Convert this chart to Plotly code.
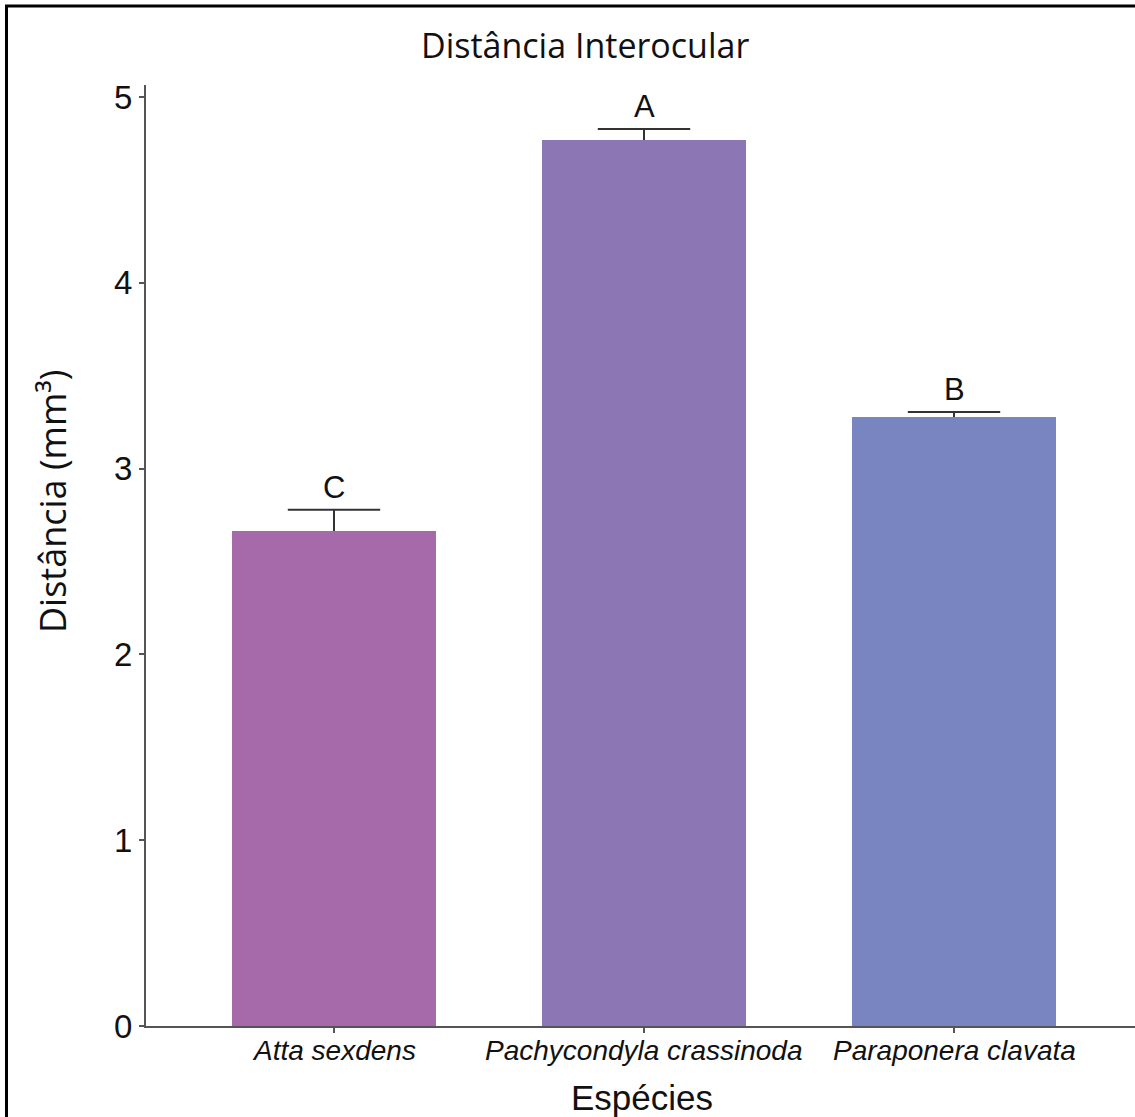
import plotly.graph_objects as go

species = ["Atta sexdens", "Pachycondyla crassinoda", "Paraponera clavata"]
means = [2.665, 4.77, 3.278]
errors = [0.113, 0.058, 0.027]
letters = ["C", "A", "B"]
yticks = [0, 1, 2, 3, 4, 5]

colors = ["#A66AAA", "#8C76B3", "#7985C1"]

W, H = 1135, 1117
ML, MR, MT, MB = 146, 0, 85, 91
pw, ph = W - ML - MR, H - MT - MB

def px_to_paper_x(px):
    return (px - ML) / pw

def px_to_paper_y(py):
    return 1 - (py - MT) / ph

xs = list(range(len(species)))
tops = [m + e for m, e in zip(means, errors)]

fig = go.Figure()
fig.add_trace(go.Bar(
    x=xs, y=means, width=0.655,
    marker=dict(color=colors, line=dict(width=0)),
    error_y=dict(type="data", symmetric=False, array=errors,
                 arrayminus=[0] * len(errors),
                 color="#333333", thickness=2, width=0),
    showlegend=False, hoverinfo="skip",
))
# error bar caps (top only)
fig.add_trace(go.Scatter(
    x=xs, y=tops, mode="markers",
    marker=dict(symbol="line-ew", size=66, line=dict(color="#333333", width=2)),
    showlegend=False, hoverinfo="skip",
))

for xi, t, l in zip(xs, tops, letters):
    fig.add_annotation(x=xi, y=t, text=l, showarrow=False,
                       yanchor="bottom", yshift=3,
                       font=dict(family="Liberation Sans, Arial", size=31, color="#111"))

# category labels
for xi, s in zip(xs, species):
    fig.add_annotation(x=xi, xref="x", yref="paper", y=px_to_paper_y(1050),
                       text=f"<i>{s}</i>", showarrow=False,
                       xanchor="center", yanchor="middle",
                       font=dict(family="Liberation Sans, Arial", size=28, color="#111"))

fig.add_annotation(xref="paper", yref="paper", x=px_to_paper_x(585), y=px_to_paper_y(45),
                   text="Distância Interocular", showarrow=False,
                   xanchor="center", yanchor="middle",
                   font=dict(family="Open Sans", size=34, color="#111"))
fig.add_annotation(xref="paper", yref="paper", x=px_to_paper_x(52), y=px_to_paper_y(502),
                   text="Distância (mm³)", showarrow=False, textangle=-90,
                   xanchor="center", yanchor="middle",
                   font=dict(family="Open Sans", size=36, color="#111"))
fig.add_annotation(xref="paper", yref="paper", x=px_to_paper_x(642), y=px_to_paper_y(1097),
                   text="Espécies", showarrow=False,
                   xanchor="center", yanchor="middle",
                   font=dict(family="Liberation Sans, Arial", size=35, color="#111"))

# figure frame (left and top edges)
fig.add_shape(type="line", xref="paper", yref="paper",
              x0=px_to_paper_x(6.5), x1=px_to_paper_x(6.5),
              y0=px_to_paper_y(5), y1=px_to_paper_y(1125),
              line=dict(color="black", width=3))
fig.add_shape(type="line", xref="paper", yref="paper",
              x0=px_to_paper_x(5), x1=px_to_paper_x(1140),
              y0=px_to_paper_y(6), y1=px_to_paper_y(6),
              line=dict(color="black", width=3))

fig.update_xaxes(
    range=[-188 / 310, 2 + (W - 954) / 310],
    tickmode="array", tickvals=xs, showticklabels=False,
    ticks="outside", ticklen=5, tickcolor="#555", tickwidth=2,
    showline=True, linecolor="#555", linewidth=2,
    showgrid=False, zeroline=False,
)
fig.update_yaxes(
    range=[0, 5 + 12 / 185.8],
    tickmode="array", tickvals=yticks,
    ticks="outside", ticklen=5, tickcolor="#555", tickwidth=2,
    showline=True, linecolor="#555", linewidth=2,
    showgrid=False, zeroline=False,
    tickfont=dict(family="Liberation Sans, Arial", size=33, color="#111"),
)
fig.update_layout(
    width=W, height=H,
    margin=dict(l=ML, r=MR, t=MT, b=MB, pad=0),
    plot_bgcolor="white", paper_bgcolor="white",
    bargap=0,
)
fig.write_html("out.html", config={"displayModeBar": False},
               post_script="document.body.style.margin='0';document.body.style.overflow='hidden';")
